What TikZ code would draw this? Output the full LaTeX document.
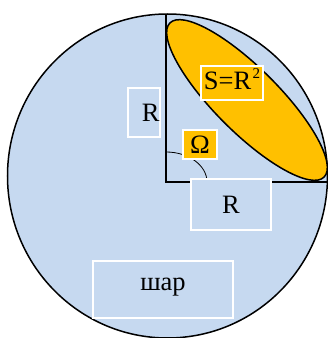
\documentclass[tikz,border=0pt]{standalone}
\usepackage{fontspec}
\setmainfont{Liberation Serif}
\usetikzlibrary{positioning}
\definecolor{ballfill}{RGB}{198,217,240}
\definecolor{capfill}{RGB}{255,192,0}

\begin{document}
\begin{tikzpicture}[x=1pt,y=1pt,
  lbl/.style={draw=white,line width=1.4pt,inner sep=0pt,font=\fontsize{26.5}{27}\selectfont,align=center},
  onball/.style={lbl,fill=ballfill},
  oncap/.style={lbl,fill=capfill},
  edge/.style={line width=1.5pt,black}]
 \useasboundingbox (0,0) rectangle (328,338);
 \coordinate (ctr) at (167.5,162);
 \coordinate (O) at (166,156);
 \coordinate (T) at (166,324);
 \coordinate (E) at (327,156);
 \coordinate (ec) at (247,238);
 % sphere
 \fill[ballfill] (ctr) ellipse [x radius=160,y radius=162];
 \draw[edge] (ctr) ellipse [x radius=160,y radius=162];
 % spot on the surface
 \draw[edge,fill=capfill,rotate around={-45:(ec)}] (ec) ellipse [x radius=109,y radius=32];
 \draw[edge] (T) -- (O) -- (E);
 \draw[line width=0.8pt] (O) ++(0,30) arc [start angle=90,end angle=0,x radius=41,y radius=30];
 % labels
 \node[oncap,minimum width=62,text height=24,text depth=10] (area) at (232,255) {S=R\kern1.5pt\raisebox{11pt}{\fontsize{15}{15}\selectfont 2}};
 \node[onball,minimum width=32,minimum height=49,text width=31,align=right] (rv) at (144,225.5) {R};
 \node[oncap,minimum width=34,minimum height=29] (omega) at (200,193.5) {Ω};
 \node[onball,minimum width=80,minimum height=51] (rh) at (231,133.5) {R};
 \node[onball,minimum width=140,text height=30,text depth=27] (ball) at (163,48.5) {шар};
\end{tikzpicture}
\end{document}
